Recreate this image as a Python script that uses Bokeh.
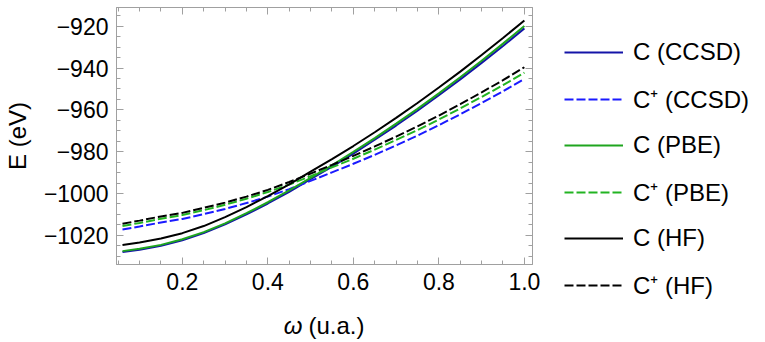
from bokeh.plotting import figure
from bokeh.layouts import row, column
from bokeh.models import (Range1d, LinearAxis, FixedTicker, Legend, LegendItem,
                          Label)
from bokeh.embed import file_html
from bokeh.resources import INLINE

# Confinement frequency omega (a.u.)
omega = [0.06, 0.1, 0.15, 0.2, 0.25, 0.3, 0.35, 0.4, 0.45, 0.5,
         0.55, 0.6, 0.65, 0.7, 0.75, 0.8, 0.85, 0.9, 0.95, 1.0]

# Total energies (eV) of the neutral atom (C) and the cation (C+)
c_ccsd = [-1028.0, -1026.9, -1025.0, -1022.4, -1019.0, -1014.8, -1010.0, -1004.8, -999.2, -993.2,
          -987.2, -980.9, -974.3, -967.5, -960.4, -953.0, -945.4, -937.5, -929.4, -921.0]
cp_ccsd = [-1017.3, -1015.8, -1013.9, -1012.2, -1009.9, -1007.4, -1004.6, -1001.5, -997.9, -994.0,
           -989.9, -985.8, -981.5, -977.0, -972.3, -967.3, -962.1, -956.7, -951.1, -945.2]
c_pbe = [-1027.6, -1026.5, -1024.6, -1021.9, -1018.5, -1014.3, -1009.4, -1004.2, -998.5, -992.5,
         -986.5, -980.1, -973.5, -966.6, -959.5, -952.1, -944.4, -936.5, -928.3, -919.9]
cp_pbe = [-1015.6, -1014.1, -1012.1, -1010.3, -1008.0, -1005.4, -1002.5, -999.3, -995.7, -991.7,
          -987.5, -983.4, -979.0, -974.4, -969.7, -964.6, -959.3, -953.8, -948.2, -942.2]
c_hf = [-1024.7, -1023.5, -1021.6, -1019.0, -1015.6, -1011.3, -1006.5, -1001.3, -995.7, -989.6,
        -983.6, -977.3, -970.7, -963.8, -956.7, -949.3, -941.7, -933.7, -925.6, -917.2]
cp_hf = [-1014.5, -1013.0, -1011.0, -1009.3, -1006.9, -1004.4, -1001.5, -998.3, -994.5, -990.5,
         -986.3, -982.0, -977.5, -972.8, -967.9, -962.7, -957.3, -951.6, -945.8, -939.6]

series = [
    ("C (CCSD)", c_ccsd, "#1414a8", "solid"),
    ("C\u207a (CCSD)", cp_ccsd, "#1a1aff", "9 3"),
    ("C (PBE)", c_pbe, "#1fa51f", "solid"),
    ("C\u207a (PBE)", cp_pbe, "#22b422", "9 3"),
    ("C (HF)", c_hf, "#000000", "solid"),
    ("C\u207a (HF)", cp_hf, "#000000", "9 3"),
]

x_major = [0.2, 0.4, 0.6, 0.8, 1.0]
y_major = [-1020, -1000, -980, -960, -940, -920]

FONT = "Liberation Sans"
FRAME = "#a0a0a0"

# ---- main plot -------------------------------------------------------------
p = figure(width=548, height=302, output_backend="svg", toolbar_location=None,
           x_range=Range1d(0.046, 1.019), y_range=Range1d(-1034, -911),
           min_border_left=116, min_border_right=16, min_border_top=7,
           min_border_bottom=38, background_fill_color="white",
           border_fill_color="white")
p.grid.visible = False
p.outline_line_color = FRAME
p.outline_line_width = 1

for name, ys, color, dash in series:
    p.line(omega, ys, line_color=color, line_width=2, line_dash=dash)


def style_axis(ax, labels=True):
    ax.axis_line_color = FRAME
    ax.major_tick_line_color = FRAME
    ax.minor_tick_line_color = FRAME
    ax.major_tick_in = 7
    ax.major_tick_out = 0
    ax.minor_tick_in = 4
    ax.minor_tick_out = 0
    ax.major_label_text_font = FONT
    ax.major_label_text_font_size = "23px" if labels else "0px"
    ax.major_label_text_color = "black"
    ax.major_label_standoff = 8 if labels else 0


xt = FixedTicker(ticks=x_major, minor_ticks=[0.05 * i for i in range(1, 21)])
yt = FixedTicker(ticks=y_major, minor_ticks=list(range(-1030, -909, 5)))

p.xaxis.ticker = xt
p.yaxis.ticker = yt
style_axis(p.xaxis[0])
style_axis(p.yaxis[0])
p.xaxis.major_label_overrides = {v: f"{v:.1f}" for v in x_major}
p.yaxis.major_label_overrides = {v: f"\u2212{abs(v)}" for v in y_major}

p.yaxis.axis_label = "E (eV)"
p.yaxis.axis_label_text_font = FONT
p.yaxis.axis_label_text_font_size = "24px"
p.yaxis.axis_label_text_font_style = "normal"
p.yaxis.axis_label_text_color = "black"
p.yaxis.axis_label_standoff = 10

top = LinearAxis(ticker=xt)
right = LinearAxis(ticker=yt)
style_axis(top, labels=False)
style_axis(right, labels=False)
p.add_layout(top, "above")
p.add_layout(right, "right")

# ---- x-axis title strip: italic omega followed by the unit ----------------
# The strip's frame lines up with the plot frame above it (pixels 116..532).
t = figure(width=548, height=40, output_backend="svg", toolbar_location=None,
           x_axis_type=None, y_axis_type=None,
           x_range=Range1d(116, 532), y_range=Range1d(0, 40), min_border=0,
           background_fill_color="white", border_fill_color="white")
t.grid.visible = False
t.outline_line_color = None
t.add_layout(Label(x=302, y=17, text="\u03c9",
                   text_font=FONT, text_font_size="24px", text_font_style="italic",
                   text_align="right", text_baseline="alphabetic", text_color="black"))
t.add_layout(Label(x=308, y=17, text="(u.a.)",
                   text_font=FONT, text_font_size="24px", text_color="black",
                   text_align="left", text_baseline="alphabetic"))

# ---- legend panel ----------------------------------------------------------
q = figure(width=217, height=342, output_backend="svg", toolbar_location=None,
           x_axis_type=None, y_axis_type=None,
           x_range=Range1d(0, 1), y_range=Range1d(0, 1),
           min_border=0, min_border_top=22,
           background_fill_color="white", border_fill_color="white")
q.grid.visible = False
q.outline_line_color = None

items = []
for name, ys, color, dash in series:
    r = q.line(omega, ys, line_color=color, line_width=2, line_dash=dash)
    items.append(LegendItem(label=name, renderers=[r]))

legend = Legend(items=items, location="top_left", orientation="vertical")
legend.label_text_font = FONT
legend.label_text_font_size = "24px"
legend.label_text_color = "black"
legend.glyph_width = 59
legend.glyph_height = 20
legend.label_height = 20
legend.spacing = 16
legend.label_standoff = 10
legend.padding = 16
legend.margin = 0
legend.border_line_alpha = 0
legend.background_fill_alpha = 0
q.add_layout(legend)

layout = row(column(p, t, spacing=0), q, spacing=0)
open("out.html", "w").write(file_html(layout, INLINE))
